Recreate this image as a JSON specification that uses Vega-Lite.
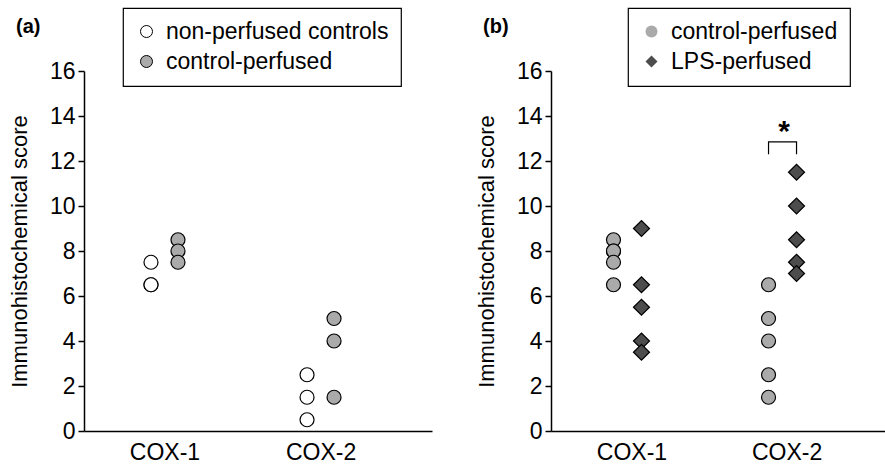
{
  "$schema": "https://vega.github.io/schema/vega-lite/v6.json",
  "padding": {"left": 8, "top": 7, "right": 0, "bottom": 0},
  "background": "white",
  "datasets": {
    "a": [
      {"cox": "COX-1", "group": "non-perfused controls", "score": 7.5},
      {"cox": "COX-1", "group": "non-perfused controls", "score": 6.5},
      {"cox": "COX-1", "group": "non-perfused controls", "score": 6.5},
      {"cox": "COX-1", "group": "control-perfused", "score": 8.5},
      {"cox": "COX-1", "group": "control-perfused", "score": 8},
      {"cox": "COX-1", "group": "control-perfused", "score": 7.5},
      {"cox": "COX-2", "group": "non-perfused controls", "score": 2.5},
      {"cox": "COX-2", "group": "non-perfused controls", "score": 1.5},
      {"cox": "COX-2", "group": "non-perfused controls", "score": 0.5},
      {"cox": "COX-2", "group": "control-perfused", "score": 5},
      {"cox": "COX-2", "group": "control-perfused", "score": 4},
      {"cox": "COX-2", "group": "control-perfused", "score": 1.5}
    ],
    "b": [
      {"cox": "COX-1", "group": "control-perfused", "score": 8.5},
      {"cox": "COX-1", "group": "control-perfused", "score": 8},
      {"cox": "COX-1", "group": "control-perfused", "score": 8},
      {"cox": "COX-1", "group": "control-perfused", "score": 7.5},
      {"cox": "COX-1", "group": "control-perfused", "score": 6.5},
      {"cox": "COX-1", "group": "LPS-perfused", "score": 9},
      {"cox": "COX-1", "group": "LPS-perfused", "score": 6.5},
      {"cox": "COX-1", "group": "LPS-perfused", "score": 5.5},
      {"cox": "COX-1", "group": "LPS-perfused", "score": 4},
      {"cox": "COX-1", "group": "LPS-perfused", "score": 3.5},
      {"cox": "COX-2", "group": "control-perfused", "score": 6.5},
      {"cox": "COX-2", "group": "control-perfused", "score": 5},
      {"cox": "COX-2", "group": "control-perfused", "score": 4},
      {"cox": "COX-2", "group": "control-perfused", "score": 2.5},
      {"cox": "COX-2", "group": "control-perfused", "score": 1.5},
      {"cox": "COX-2", "group": "LPS-perfused", "score": 11.5},
      {"cox": "COX-2", "group": "LPS-perfused", "score": 10},
      {"cox": "COX-2", "group": "LPS-perfused", "score": 8.5},
      {"cox": "COX-2", "group": "LPS-perfused", "score": 7.5},
      {"cox": "COX-2", "group": "LPS-perfused", "score": 7}
    ],
    "bracket": [
      {"cox": "COX-2", "group": "control-perfused", "score": 12.3, "step": 1},
      {"cox": "COX-2", "group": "control-perfused", "score": 12.85, "step": 2},
      {"cox": "COX-2", "group": "LPS-perfused", "score": 12.85, "step": 3},
      {"cox": "COX-2", "group": "LPS-perfused", "score": 12.3, "step": 4}
    ],
    "star": [
      {"cox": "COX-2", "score": 13.3, "label": "*"}
    ]
  },
  "config": {
    "font": "Liberation Sans",
    "view": {"stroke": null},
    "axis": {
      "grid": false, "domainColor": "black", "domainWidth": 1.5,
      "tickColor": "black", "tickWidth": 1.5,
      "labelColor": "black", "titleColor": "black",
      "labelFont": "Liberation Sans", "titleFont": "Liberation Sans"
    },
    "axisX": {"ticks": false, "labelFontSize": 23, "labelAngle": 0, "labelPadding": 10},
    "axisY": {"labelFontSize": 23, "tickSize": 6, "labelPadding": 3, "titleFontSize": 22, "titleFontWeight": "normal", "titlePadding": 18, "values": [0, 2, 4, 6, 8, 10, 12, 14, 16]},
    "legend": {
      "orient": "none", "strokeColor": "black", "strokeWidth": 1.2, "fillColor": "white",
      "padding": 12, "labelFontSize": 23, "labelColor": "black", "labelFont": "Liberation Sans", "labelLimit": 0,
      "symbolSize": 144, "labelOffset": 8, "rowPadding": 6,
      "symbolStrokeColor": "black", "symbolStrokeWidth": 1
    }
  },
  "spacing": 43,
  "resolve": {
    "scale": {"x": "independent", "y": "independent", "fill": "independent", "shape": "independent", "xOffset": "independent"},
    "legend": {"fill": "independent", "shape": "independent"}
  },
  "hconcat": [
    {
      "width": 348, "height": 360,
      "title": {"text": "(a)", "dx": -68, "offset": -30, "anchor": "start", "frame": "group", "fontSize": 20, "fontWeight": "bold", "color": "black", "font": "Liberation Sans"},
      "layer": [
        {
          "data": {"name": "a"},
          "mark": {"type": "point", "filled": true, "shape": "circle", "stroke": "black", "strokeWidth": 1.2, "size": 196, "opacity": 1},
          "encoding": {
            "x": {"field": "cox", "type": "nominal", "title": null, "scale": {"domain": ["COX-1", "COX-2"], "paddingInner": 0, "paddingOuter": 0.115, "align": 0.083}},
            "xOffset": {"field": "group", "type": "nominal", "scale": {"domain": ["non-perfused controls", "control-perfused"], "range": [64, 91], "paddingOuter": 0}},
            "y": {"field": "score", "type": "quantitative", "title": "Immunohistochemical score", "scale": {"domain": [0, 16], "nice": false}},
            "fill": {"field": "group", "type": "nominal", "scale": {"domain": ["non-perfused controls", "control-perfused"], "range": ["white", "#aaaaaa"]}, "legend": {"title": null, "legendX": 39, "legendY": -63, "symbolType": "circle"}}
          }
        }
      ]
    },
    {
      "width": 338, "height": 360,
      "title": {"text": "(b)", "dx": -68, "offset": -30, "anchor": "start", "frame": "group", "fontSize": 20, "fontWeight": "bold", "color": "black", "font": "Liberation Sans"},
      "layer": [
        {
          "data": {"name": "b"},
          "mark": {"type": "point", "filled": true, "stroke": "black", "strokeWidth": 1.2, "opacity": 1},
          "encoding": {
            "x": {"field": "cox", "type": "nominal", "title": null, "scale": {"domain": ["COX-1", "COX-2"], "paddingInner": 0, "paddingOuter": 0.09, "align": 0.125}},
            "xOffset": {"field": "group", "type": "nominal", "scale": {"domain": ["control-perfused", "LPS-perfused"], "range": [59, 87], "paddingOuter": 0}},
            "y": {"field": "score", "type": "quantitative", "title": "Immunohistochemical score", "scale": {"domain": [0, 16], "nice": false}},
            "fill": {"field": "group", "type": "nominal", "scale": {"domain": ["control-perfused", "LPS-perfused"], "range": ["#aaaaaa", "#4d4d4d"]}, "legend": {"title": null, "legendX": 77, "legendY": -63}},
            "shape": {"field": "group", "type": "nominal", "scale": {"domain": ["control-perfused", "LPS-perfused"], "range": ["circle", "diamond"]}, "legend": {"title": null, "legendX": 77, "legendY": -63}},
            "size": {"field": "group", "type": "nominal", "scale": {"domain": ["control-perfused", "LPS-perfused"], "range": [196, 256]}, "legend": null}
          }
        },
        {
          "data": {"name": "bracket"},
          "mark": {"type": "line", "color": "black", "strokeWidth": 1.2},
          "encoding": {
            "x": {"field": "cox", "type": "nominal"},
            "xOffset": {"field": "group", "type": "nominal"},
            "y": {"field": "score", "type": "quantitative"},
            "order": {"field": "step", "type": "quantitative"}
          }
        },
        {
          "data": {"name": "star"},
          "mark": {"type": "text", "fontSize": 30, "fontWeight": "bold", "color": "black", "baseline": "middle", "dx": -3},
          "encoding": {
            "x": {"field": "cox", "type": "nominal"},
            "y": {"field": "score", "type": "quantitative"},
            "text": {"field": "label"}
          }
        }
      ]
    }
  ]
}
